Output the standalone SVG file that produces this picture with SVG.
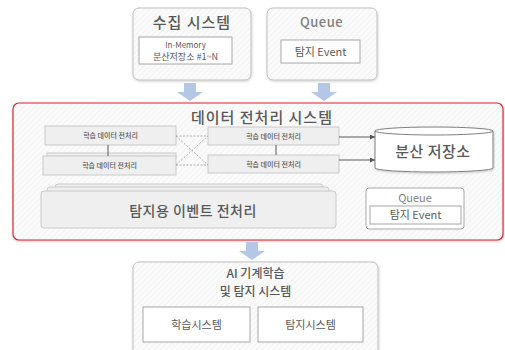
<svg xmlns="http://www.w3.org/2000/svg" width="505" height="350" viewBox="0 0 505 350">
<defs>
<pattern id="hatch" patternUnits="userSpaceOnUse" width="4" height="4" patternTransform="rotate(45)">
<rect width="4" height="4" fill="#fbfbfb"/>
<line x1="0" y1="0" x2="0" y2="4" stroke="#e9e9e9" stroke-width="1"/>
</pattern>
<filter id="sh" x="-10%" y="-10%" width="120%" height="130%">
<feDropShadow dx="0.5" dy="1" stdDeviation="0.8" flood-color="#000" flood-opacity="0.2"/>
</filter>
<marker id="ah" viewBox="0 0 6 6" refX="6" refY="3" markerWidth="5" markerHeight="5" orient="auto">
<path d="M0,0 L6,3 L0,6 z" fill="#555"/>
</marker>
</defs>
<style>
text{font-family:"Noto Sans CJK KR","Noto Sans",sans-serif;fill:#595959;text-anchor:middle}
.panel{fill:url(#hatch);stroke:#bfbfbf;stroke-width:1}
.white{fill:#fff;stroke:#a6a6a6;stroke-width:1}
.gray{fill:#efefef;stroke:#c9c9c9;stroke-width:1}
.t1{font-size:15px;font-weight:500;letter-spacing:1px}
.t2{font-size:11px}
.t3{font-size:7px;font-weight:500}
.barrow{fill:#b4c7e7}
.conn{stroke:#595959;stroke-width:1;fill:none}
.dash{stroke:#999;stroke-width:0.8;stroke-dasharray:2,1.5;fill:none}
</style>
<rect width="505" height="350" fill="#fff"/>

<g id="collect">
<rect class="panel" x="133" y="8" width="118" height="72" rx="6" filter="url(#sh)"/>
<text class="t1" x="192" y="28">수집 시스템</text>
<rect class="white" x="139" y="37" width="93" height="27"/>
<text x="185.5" y="48" style="font-size:8px">In-Memory</text>
<text x="185.5" y="60" style="font-size:9px">분산저장소 #1~N</text>
</g>

<g id="queue-top">
<rect class="panel" x="267" y="8" width="110" height="72" rx="6" filter="url(#sh)"/>
<text x="321.5" y="27" style="font-size:13px;font-weight:500;fill:#7f7f7f;letter-spacing:0.5px">Queue</text>
<rect class="white" x="281" y="40" width="79" height="23"/>
<text class="t2" x="320.5" y="56">탐지 Event</text>
</g>

<g id="preprocess-system">
<rect x="13" y="103" width="490" height="137" rx="6" fill="url(#hatch)" stroke="#d9262b" stroke-width="1.2" filter="url(#sh)"/>
<text class="t1" x="262" y="123">데이터 전처리 시스템</text>
</g>

<g id="learn-l1">
<rect class="gray" x="45" y="126" width="131" height="19"/>
<text class="t3" x="110.5" y="138">학습 데이터 전처리</text>
</g>
<g id="learn-l2">
<rect class="gray" x="47" y="153" width="129" height="4" fill="#f3f3f3"/>
<rect class="gray" x="43" y="156" width="133" height="19"/>
<text class="t3" x="109.5" y="168">학습 데이터 전처리</text>
</g>
<g id="learn-r1">
<rect class="gray" x="208" y="127" width="131" height="18"/>
<text class="t3" x="273.5" y="139">학습 데이터 전처리</text>
</g>
<g id="learn-r2">
<rect class="gray" x="208" y="155" width="131" height="18"/>
<text class="t3" x="273.5" y="167">학습 데이터 전처리</text>
</g>

<g id="storage">
<path d="M375,131 A59,4 0 0 1 493,131 L493,168 A59,4 0 0 1 375,168 Z" fill="#fff" stroke="#7f7f7f" stroke-width="1" filter="url(#sh)"/>
<path d="M375,131 A59,4 0 0 0 493,131" fill="none" stroke="#7f7f7f" stroke-width="1"/>
<text x="433" y="157" style="font-size:15px;font-weight:500;letter-spacing:0.5px">분산 저장소</text>
</g>

<g id="event-preprocess">
<rect class="gray" x="55" y="184" width="268" height="10" rx="3"/>
<rect class="gray" x="47" y="187" width="282" height="10" rx="3"/>
<rect class="gray" x="41" y="191" width="295" height="37" rx="3"/>
<text x="193" y="216" style="font-size:14px;font-weight:500;letter-spacing:0.5px">탐지용 이벤트 전처리</text>
</g>

<g id="queue-inner">
<rect x="366" y="188" width="98" height="41" rx="3" fill="#fff" stroke="#a6a6a6" stroke-width="1"/>
<text class="t2" x="415" y="202" style="fill:#7f7f7f">Queue</text>
<rect class="white" x="370" y="206" width="91" height="18" stroke="#7f7f7f"/>
<text class="t2" x="415.5" y="219">탐지 Event</text>
</g>

<g id="ai-system">
<rect class="panel" x="133" y="262" width="245" height="95" rx="6" filter="url(#sh)"/>
<text x="255.5" y="278" style="font-size:12px;font-weight:500">AI 기계학습</text>
<text x="255.5" y="296" style="font-size:12px;font-weight:500">및 탐지 시스템</text>
<rect class="white" x="143" y="307" width="107" height="35"/>
<text class="t2" x="196.5" y="329">학습시스템</text>
<rect class="white" x="258" y="307" width="105" height="35"/>
<text class="t2" x="310.5" y="329">탐지시스템</text>
</g>

<g id="connectors">
<path class="barrow" d="M184,83 H196 V92 H203 L190,101 L177,92 H184 Z"/>
<path class="barrow" d="M318,83 H330 V92 H337 L324,101 L311,92 H318 Z"/>
<path class="barrow" d="M246,242 H258 V251 H265 L252,260 L239,251 H246 Z"/>
<line class="conn" x1="108" y1="145" x2="108" y2="156" stroke="#888"/>
<line class="conn" x1="276" y1="145" x2="276" y2="155" stroke="#888"/>
<line class="dash" x1="176" y1="136" x2="208" y2="136"/>
<line class="dash" x1="176" y1="165" x2="208" y2="165"/>
<line class="dash" x1="176" y1="136" x2="208" y2="165"/>
<line class="dash" x1="176" y1="165" x2="208" y2="136"/>
<line class="conn" x1="339" y1="137" x2="375" y2="137" marker-end="url(#ah)"/>
<line class="conn" x1="339" y1="160" x2="375" y2="160" marker-end="url(#ah)"/>
</g>
</svg>
